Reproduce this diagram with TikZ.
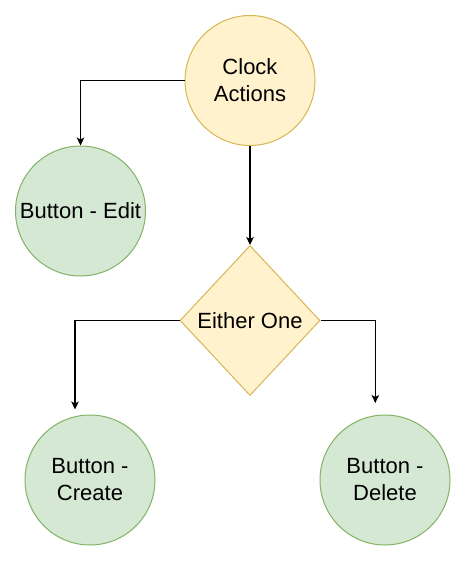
\documentclass[tikz,border=0pt]{standalone}
\usepackage{fontspec}
\setmainfont{Liberation Sans}
\usetikzlibrary{shapes.geometric,arrows.meta}
\definecolor{yfill}{HTML}{FFF2CC}
\definecolor{ydraw}{HTML}{D6B656}
\definecolor{gfill}{HTML}{D5E8D4}
\definecolor{gdraw}{HTML}{82B366}
\tikzset{
  lbl/.style={font=\fontsize{22pt}{27pt}\selectfont, align=center, text=black, inner sep=0pt},
  ycirc/.style={lbl, circle, fill=yfill, draw=ydraw, line width=1pt, minimum size=130pt},
  gcirc/.style={lbl, circle, fill=gfill, draw=gdraw, line width=1pt, minimum size=130pt},
  ydia/.style={lbl, diamond, fill=yfill, draw=ydraw, line width=1pt, minimum width=140pt, minimum height=150pt},
  conn/.style={draw=black, line width=1.1pt, -{Stealth[length=8pt,width=7.5pt,inset=2pt]}}
}
\begin{document}
\begin{tikzpicture}[x=1pt,y=-1pt]
\useasboundingbox (0,0) rectangle (466,561);
\node[ycirc] (clock) at (250,80.5) {Clock\\Actions};
\node[gcirc] (edit) at (80.5,211) {Button - Edit};
\node[ydia] (either) at (250,320.5) {Either One};
\node[gcirc] (create) at (90,480) {Button -\\Create};
\node[gcirc] (delete) at (385,480) {Button -\\Delete};
\draw[conn] (clock.west) -| (edit.north);
\draw[conn] (clock.south) -- (either.north);
\draw[conn, shorten >=4pt] (either.west) -| ([xshift=-15pt,yshift=1pt]create.north);
\draw[conn, shorten >=11pt] (either.east) -| ([xshift=-9.7pt,yshift=0.5pt]delete.north);
\end{tikzpicture}
\end{document}
